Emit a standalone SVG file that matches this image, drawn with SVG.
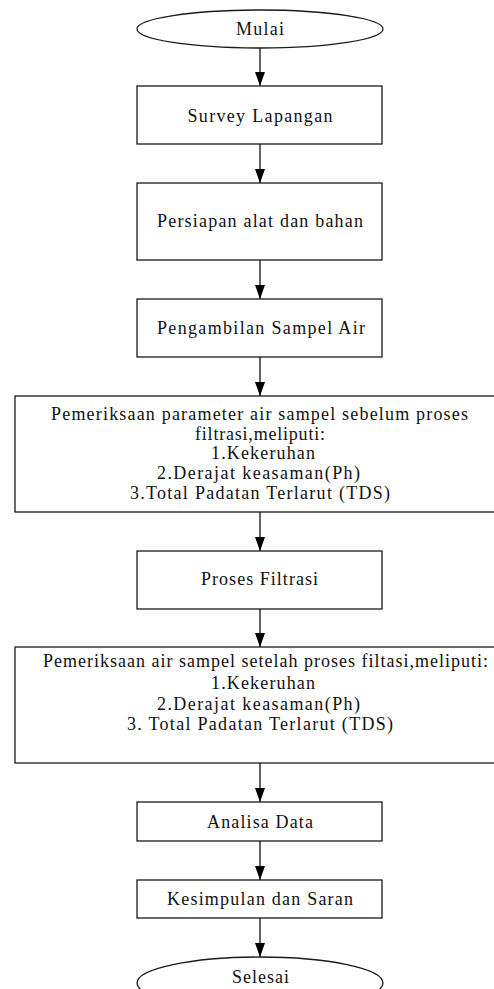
<svg xmlns="http://www.w3.org/2000/svg" width="494" height="989" viewBox="0 0 494 989">
<style>
.shape{fill:#fff;stroke:#1a1a1a;stroke-width:1.3}
.t{font-family:"Liberation Serif","Times New Roman",serif;font-size:18px;fill:#111;text-anchor:middle}
.conn line{stroke:#111;stroke-width:1.3;marker-end:url(#ah)}
</style>
<defs>
<marker id="ah" viewBox="0 0 14 10" refX="14" refY="5" markerWidth="14" markerHeight="10" markerUnits="userSpaceOnUse" orient="auto">
<path d="M0,0 L14,5 L0,10 z" fill="#000"/>
</marker>
</defs>
<rect width="494" height="989" fill="#fff"/>
<g id="connectors" class="conn">
<line x1="260" y1="48" x2="260" y2="86"/>
<line x1="260" y1="144" x2="260" y2="183"/>
<line x1="260" y1="260" x2="260" y2="299"/>
<line x1="260" y1="357" x2="260" y2="396"/>
<line x1="260" y1="512" x2="260" y2="551"/>
<line x1="260" y1="609" x2="260" y2="647"/>
<line x1="260" y1="763" x2="260" y2="802"/>
<line x1="260" y1="841" x2="260" y2="880"/>
<line x1="260" y1="918" x2="260" y2="957"/>
</g>
<g id="mulai">
<ellipse class="shape" cx="260" cy="29" rx="123" ry="19"/>
<text class="t" x="260" y="35" textLength="48" lengthAdjust="spacing">Mulai</text>
</g>
<g id="survey">
<rect class="shape" x="137" y="86" width="245" height="58"/>
<text class="t" x="260" y="122" textLength="145" lengthAdjust="spacing">Survey Lapangan</text>
</g>
<g id="persiapan">
<rect class="shape" x="137" y="183" width="245" height="77"/>
<text class="t" x="260" y="227" textLength="206" lengthAdjust="spacing">Persiapan alat dan bahan</text>
</g>
<g id="pengambilan">
<rect class="shape" x="137" y="299" width="245" height="58"/>
<text class="t" x="261" y="334" textLength="208" lengthAdjust="spacing">Pengambilan Sampel Air</text>
</g>
<g id="pemeriksaan-sebelum">
<rect class="shape" x="15" y="396" width="490" height="116"/>
<text class="t" x="259.5" y="420" textLength="417" lengthAdjust="spacing">Pemeriksaan parameter air sampel sebelum proses</text>
<text class="t" x="260" y="440" textLength="130" lengthAdjust="spacing">filtrasi,meliputi:</text>
<text class="t" x="263" y="459" textLength="104" lengthAdjust="spacing">1.Kekeruhan</text>
<text class="t" x="258.5" y="479" textLength="203" lengthAdjust="spacing">2.Derajat keasaman(Ph)</text>
<text class="t" x="260" y="499" textLength="260" lengthAdjust="spacing">3.Total Padatan Terlarut (TDS)</text>
</g>
<g id="proses-filtrasi">
<rect class="shape" x="137" y="551" width="245" height="58"/>
<text class="t" x="259.5" y="585" textLength="117" lengthAdjust="spacing">Proses Filtrasi</text>
</g>
<g id="pemeriksaan-setelah">
<rect class="shape" x="15" y="647" width="490" height="116"/>
<text class="t" x="265.5" y="667" textLength="445" lengthAdjust="spacing">Pemeriksaan air sampel setelah proses filtasi,meliputi:</text>
<text class="t" x="263" y="689" textLength="104" lengthAdjust="spacing">1.Kekeruhan</text>
<text class="t" x="258.5" y="710" textLength="203" lengthAdjust="spacing">2.Derajat keasaman(Ph)</text>
<text class="t" x="260" y="730" textLength="266" lengthAdjust="spacing">3. Total Padatan Terlarut (TDS)</text>
</g>
<g id="analisa">
<rect class="shape" x="137" y="802" width="245" height="39"/>
<text class="t" x="260" y="828" textLength="106" lengthAdjust="spacing">Analisa Data</text>
</g>
<g id="kesimpulan">
<rect class="shape" x="137" y="880" width="245" height="38"/>
<text class="t" x="260" y="905" textLength="186" lengthAdjust="spacing">Kesimpulan dan Saran</text>
</g>
<g id="selesai">
<ellipse class="shape" cx="260" cy="983" rx="123" ry="26"/>
<text class="t" x="260.5" y="983" textLength="57" lengthAdjust="spacing">Selesai</text>
</g>
</svg>
